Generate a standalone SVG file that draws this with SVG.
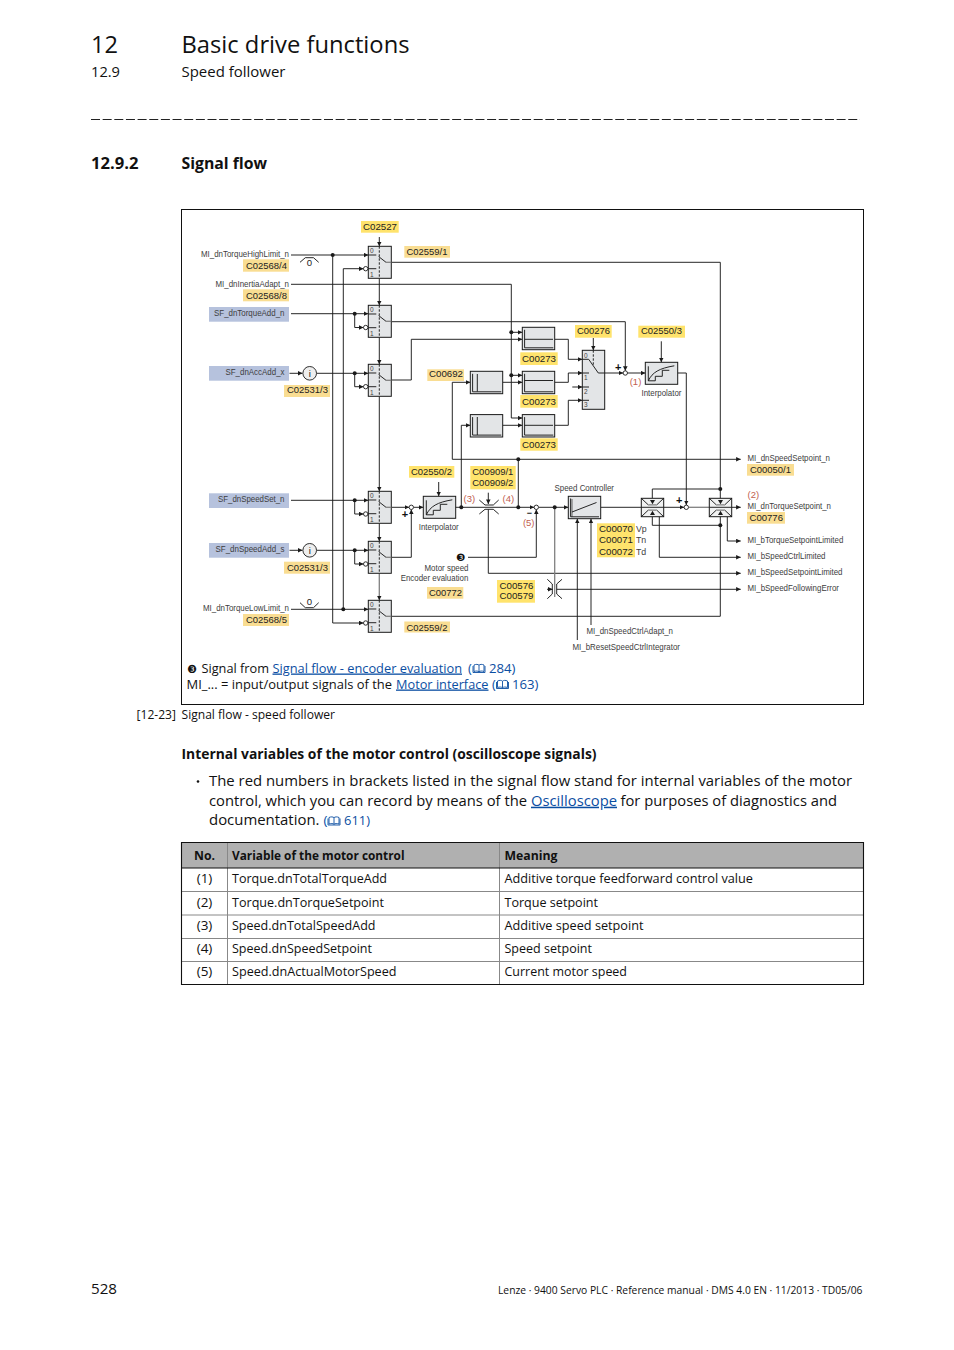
<svg xmlns="http://www.w3.org/2000/svg" width="954" height="1350" viewBox="0 0 954 1350">
<style>
.t{font-family:"Open Sans","Noto Sans",sans-serif;fill:#111}
.b{font-weight:700}
.l{fill:#0b4ea2}
.u{text-decoration:underline}
.d{font-family:"Liberation Sans",Arial,sans-serif;font-size:9.6px;fill:#222}
.s{font-family:"Liberation Sans",Arial,sans-serif;font-size:8.8px;fill:#3d3d3d}
.n{font-family:"Liberation Sans",Arial,sans-serif;font-size:6.5px;fill:#444}
.r{font-family:"Liberation Sans",Arial,sans-serif;font-size:9.5px;fill:#c2604f;text-anchor:middle}
.pm{font-family:"Liberation Sans",Arial,sans-serif;font-size:11px;fill:#111;text-anchor:middle;font-weight:700}
.w{fill:none;stroke:#1a1a1a;stroke-width:.95}
.a{marker-end:url(#ah)}
.g{fill:none;stroke:#808080;stroke-width:1.3}
.box{fill:#e3e5e7;stroke:#1a1a1a;stroke-width:1}
.y1{fill:#ffe36c}
.y2{fill:#f9dd92}
.bl{fill:#b6c2dd}
.j{fill:#1a1a1a}
.o{fill:#fff;stroke:#1a1a1a;stroke-width:.9}
.tl{fill:none;stroke:#888;stroke-width:1}
.tk{fill:none;stroke:#111;stroke-width:1.1}
</style>
<defs>
<marker id="ah" markerUnits="userSpaceOnUse" markerWidth="5" markerHeight="5" refX="4.6" refY="2.3" orient="auto"><path d="M0,0L4.6,2.3L0,4.6z" fill="#1a1a1a"/></marker>
<symbol id="sw" overflow="visible" width="23" height="32">
<rect class="box" width="23" height="32"/>
<path class="w" d="M0 8.7H8M0 22.4H8M10.4 10.3L17.7 16"/>
<path class="g" d="M17.7 16H23"/>
<path class="w" stroke-dasharray="2.4 1.6" d="M11 0V32"/>
</symbol>
<symbol id="flt" overflow="visible" width="32.4" height="22.4">
<rect class="box" width="32.4" height="22.4"/>
<path class="w" d="M2.3 2.5V20.5H31"/>
</symbol>
<symbol id="ipl" overflow="visible" width="32.4" height="22">
<rect class="box" width="32.4" height="22"/>
<path class="w" d="M3 4V18.5H10V14H17V8H24"/>
<path class="w" d="M3 18.5C7 10 14 6 29 3.5"/>
</symbol>
<symbol id="lim" overflow="visible" width="22.4" height="18.4">
<rect class="box" style="fill:#f1f2f2" width="22.4" height="18.4"/>
<path class="w" d="M0 0L7 6.6M22.4 0L15.4 6.6M0 18.4L7 11.8M22.4 18.4L15.4 11.8"/>
<path class="g" d="M7 6.6H15.4M7 11.8H15.4"/>
<path class="j" d="M8.7 1.8H13.7L11.2 6zM8.7 16.6H13.7L11.2 12.4z"/>
<path class="w" d="M0 9H22.4"/>
</symbol>
<symbol id="bk" overflow="visible" width="13" height="10">
<path fill="none" stroke="#0b4ea2" stroke-width=".9" d="M1.5 1.5C3.5.6 5.5.7 6.5 1.7C7.5.7 9.5.6 11.5 1.5V8C9.5 7.3 7.5 7.4 6.5 8.3C5.5 7.4 3.5 7.3 1.5 8ZM6.5 1.7V8.3M.5 2.5V9H12.5V2.5"/>
</symbol>
</defs>
<rect width="954" height="1350" fill="#fff"/>

<g id="page-header">
<text class="t" x="91" y="53" font-size="24" textLength="27" lengthAdjust="spacingAndGlyphs">12</text>
<text class="t" x="181.5" y="53" font-size="24" textLength="228" lengthAdjust="spacingAndGlyphs">Basic drive functions</text>
<text class="t" x="91" y="76.7" font-size="14" textLength="29" lengthAdjust="spacingAndGlyphs">12.9</text>
<text class="t" x="181.5" y="76.7" font-size="14" textLength="104" lengthAdjust="spacingAndGlyphs">Speed follower</text>
<path d="M91 119.5H860" stroke="#222" stroke-width="1" stroke-dasharray="9 2.65"/>
<text class="t b" x="91" y="169" font-size="16.5" textLength="47.5" lengthAdjust="spacingAndGlyphs">12.9.2</text>
<text class="t b" x="181.5" y="169" font-size="16.5" textLength="85.5" lengthAdjust="spacingAndGlyphs">Signal flow</text>
</g>

<rect id="frame" x="181.5" y="209.5" width="682" height="495" fill="none" stroke="#111" stroke-width="1"/>

<g id="connectors">
<path class="w a" d="M379.3 237V246.3"/>
<path class="w a" d="M379.3 278.3V305.3"/>
<path class="w a" d="M379.3 337.3V364.3"/>
<path class="w a" d="M379.3 396.3V491.3"/>
<path class="w a" d="M379.3 523.3V541.3"/>
<path class="g a" d="M379.3 573.3V600.3"/>
<path class="w a" d="M291 255H368.3"/>
<path class="w a" d="M332.7 255V623H363.5"/>
<path class="w a" d="M291 609.3H368.3"/>
<path class="w a" d="M343.3 609.3V268.7H363.5"/>
<path class="w a" d="M291 284.3H511.3V418H522.3"/>
<path class="w a" d="M511.3 332.3H522.3"/>
<path class="w a" d="M511.3 375.3H522.3"/>
<path class="w a" d="M291 313.7H368.3"/>
<path class="w a" d="M354.7 313.7V327.5H363.5"/>
<path class="w a" d="M289.5 373.3H302.5"/>
<path class="w a" d="M316.7 373.3H368.3"/>
<path class="w a" d="M354.7 373.3V386.7H363.5"/>
<path class="w a" d="M291 500.3H368.3"/>
<path class="w a" d="M354.7 500.3V514H363.5"/>
<path class="w a" d="M289.5 550.3H302.5"/>
<path class="w a" d="M316.7 550.3H368.3"/>
<path class="w a" d="M354.7 550.3V564H363.5"/>
<path class="w" d="M391.3 262.3H720.3V616.3H391.3"/>
<path class="w a" d="M391.3 321.7H625.3V370.8"/>
<path class="w a" d="M391.3 380H411.3V339.3H522.3"/>
<path class="w a" d="M391.3 507.3H409.1"/>
<path class="w a" d="M391.3 557.3H411.3V509.5"/>
<path class="w a" d="M413.5 507.3H423.3"/>
<path class="w a" d="M454.7 507.3H534.1"/>
<path class="w a" d="M538.5 507.3H568.3"/>
<path class="w" d="M600.7 507.3H641.3"/>
<path class="w a" d="M663.7 507.3H684.1"/>
<path class="g" d="M688.5 507.3H709.3"/>
<path class="w a" d="M731.7 507.3H740.7"/>
<path class="w a" d="M452.3 459.3V382.3H470.3"/>
<path class="w a" d="M452.3 459.3H740.7"/>
<path class="w" d="M518.3 459.3V507.3"/>
<path class="w a" d="M461.3 507.3V425.3H470.3"/>
<path class="w a" d="M502.7 382.3H522.3"/>
<path class="w a" d="M502.7 425.3H522.3"/>
<path class="w a" d="M554.7 339.3H568.3V359.3H582.3"/>
<path class="w a" d="M554.7 382.3H568.3V373H582.3"/>
<path class="w a" d="M572.3 387H582.3"/>
<path class="w a" d="M554.7 425.3H568.3V400.3H582.3"/>
<path class="w a" d="M604.7 373H623.1"/>
<path class="w a" d="M627.5 373H645.3"/>
<path class="w a" d="M677.7 373H686.3V505.1"/>
<path class="w a" d="M661.3 341.3V362.3"/>
<path class="w a" d="M593.3 338V350.3"/>
<path class="w a" d="M438.7 482V496.3"/>
<path class="w a" d="M488.3 492.7V504"/>
<path class="w a" d="M488.3 509.3V573.3H740.7"/>
<path class="w" d="M479.3 500L485 505H493.3L498.7 500M479.3 514L485 509.3H493.3L498.7 514"/>
<path class="g" stroke-width="1.5" d="M554.7 507.3V597"/>
<path class="w a" d="M547 589.3H552.6"/>
<path class="w a" d="M556.7 589.3H740.7"/>
<path class="w" d="M562 579.3L556.7 584V594L562 598.7M547.3 579.3L552.3 584V594L547.3 598.7"/>
<path class="w a" d="M577.3 640V518.7"/>
<path class="w a" d="M591 625V518.7"/>
<path class="w a" d="M468 557.3H536.3V509.5"/>
<path class="w" d="M652.3 498.3V489H720.3"/>
<path class="w" d="M652.3 516.7V525.3H720.3"/>
<path class="w a" d="M659.3 516.7V557.3H740.7"/>
<path class="w a" d="M727.3 516.7V541H740.7"/>
<circle class="j" cx="332.7" cy="255" r="2"/><circle class="j" cx="343.3" cy="609.3" r="2"/>
<circle class="j" cx="354.7" cy="313.7" r="2"/><circle class="j" cx="354.7" cy="373.3" r="2"/>
<circle class="j" cx="354.7" cy="500.3" r="2"/><circle class="j" cx="354.7" cy="550.3" r="2"/>
<circle class="j" cx="511.3" cy="332.3" r="2"/><circle class="j" cx="511.3" cy="375.3" r="2"/>
<circle class="j" cx="518.3" cy="459.3" r="2"/><circle class="j" cx="461.3" cy="507.3" r="2"/>
<circle class="j" cx="518.3" cy="507.3" r="2"/><circle class="j" cx="554.7" cy="507.3" r="2"/>
<circle class="j" cx="720.3" cy="489" r="2"/><circle class="j" cx="720.3" cy="525.3" r="2"/>
<path class="w" d="M300 262.3L305.3 257.7H313.5L318.7 262.3M300 602.7L305.3 607.7H313.5L318.7 602.7"/>
</g>

<g id="sw1"><use href="#sw" x="368.3" y="246.3"/><circle class="o" cx="365.7" cy="268.7" r="2.2"/><text class="n" x="370" y="252.5">0</text><text class="n" x="370" y="276.5">1</text></g>
<g id="sw2"><use href="#sw" x="368.3" y="305.3"/><circle class="o" cx="365.7" cy="327.5" r="2.2"/><text class="n" x="370" y="311.5">0</text><text class="n" x="370" y="335.5">1</text></g>
<g id="sw3"><use href="#sw" x="368.3" y="364.3"/><circle class="o" cx="365.7" cy="386.7" r="2.2"/><text class="n" x="370" y="370.5">0</text><text class="n" x="370" y="394.5">1</text></g>
<g id="sw4"><use href="#sw" x="368.3" y="491.3"/><circle class="o" cx="365.7" cy="514" r="2.2"/><text class="n" x="370" y="497.5">0</text><text class="n" x="370" y="521.5">1</text></g>
<g id="sw5"><use href="#sw" x="368.3" y="541.3"/><circle class="o" cx="365.7" cy="564" r="2.2"/><text class="n" x="370" y="547.5">0</text><text class="n" x="370" y="571.5">1</text></g>
<g id="sw6"><use href="#sw" x="368.3" y="600.3"/><circle class="o" cx="365.7" cy="623" r="2.2"/><text class="n" x="370" y="606.5">0</text><text class="n" x="370" y="630.5">1</text></g>

<g id="in-highlimit"><text class="s" x="201" y="257" textLength="88" lengthAdjust="spacingAndGlyphs">MI_dnTorqueHighLimit_n</text><rect class="y2" x="243" y="259.3" width="46" height="12.4"/><text class="d" x="246" y="268.5" textLength="41" lengthAdjust="spacingAndGlyphs">C02568/4</text><text class="d" x="309.5" y="266.3" text-anchor="middle">0</text></g>
<g id="in-inertia"><text class="s" x="215.5" y="287" textLength="73.5" lengthAdjust="spacingAndGlyphs">MI_dnInertiaAdapt_n</text><rect class="y2" x="243" y="289.3" width="46" height="12"/><text class="d" x="246" y="298.5" textLength="41" lengthAdjust="spacingAndGlyphs">C02568/8</text></g>
<g id="in-torqueadd"><rect class="bl" x="209" y="307" width="80" height="14.7"/><text class="s" x="214" y="316" textLength="70.5" lengthAdjust="spacingAndGlyphs">SF_dnTorqueAdd_n</text></g>
<g id="in-accadd"><rect class="bl" x="209" y="366" width="80" height="14.7"/><text class="s" x="225.5" y="375" textLength="59" lengthAdjust="spacingAndGlyphs">SF_dnAccAdd_x</text></g>
<g id="i1"><circle class="o" style="fill:#eee" cx="309.7" cy="373.3" r="6.8"/><text class="d" x="309.7" y="377" text-anchor="middle">i</text><rect class="y2" x="284" y="385" width="46" height="12"/><text class="d" x="287" y="393.4" textLength="41" lengthAdjust="spacingAndGlyphs">C02531/3</text></g>
<g id="in-speedset"><rect class="bl" x="209" y="493.3" width="80" height="14.7"/><text class="s" x="218" y="502" textLength="66.5" lengthAdjust="spacingAndGlyphs">SF_dnSpeedSet_n</text></g>
<g id="in-speedadd"><rect class="bl" x="209" y="543" width="80" height="14.7"/><text class="s" x="215.5" y="552" textLength="69" lengthAdjust="spacingAndGlyphs">SF_dnSpeedAdd_s</text></g>
<g id="i2"><circle class="o" style="fill:#eee" cx="309.7" cy="550.3" r="6.8"/><text class="d" x="309.7" y="554" text-anchor="middle">i</text><rect class="y2" x="284" y="561.7" width="46" height="12"/><text class="d" x="287" y="570.6" textLength="41" lengthAdjust="spacingAndGlyphs">C02531/3</text></g>
<g id="in-lowlimit"><text class="s" x="203" y="611" textLength="86" lengthAdjust="spacingAndGlyphs">MI_dnTorqueLowLimit_n</text><rect class="y2" x="243" y="614" width="46" height="12"/><text class="d" x="246" y="623.3" textLength="41" lengthAdjust="spacingAndGlyphs">C02568/5</text><text class="d" x="309.5" y="605.3" text-anchor="middle">0</text></g>

<g id="c02527"><rect class="y1" x="361" y="221" width="37.7" height="11.7"/><text class="d" x="363" y="229.8" textLength="34" lengthAdjust="spacingAndGlyphs">C02527</text></g>
<g id="c02559-1"><rect class="y2" x="404.3" y="246" width="45.7" height="11.7"/><text class="d" x="406.5" y="255" textLength="41" lengthAdjust="spacingAndGlyphs">C02559/1</text></g>
<g id="c02559-2"><rect class="y2" x="404.3" y="621.5" width="45.7" height="11"/><text class="d" x="406.5" y="630.5" textLength="41" lengthAdjust="spacingAndGlyphs">C02559/2</text></g>

<g id="f1"><use href="#flt" x="522.3" y="327.3"/><path class="w" d="M524.6 339.3H553"/><rect class="y1" x="520.3" y="352.3" width="37.4" height="12.7"/><text class="d" x="522" y="362" textLength="34" lengthAdjust="spacingAndGlyphs">C00273</text></g>
<g id="f2"><use href="#flt" x="522.3" y="371.3"/><path class="w" d="M524.6 380.5H553"/><rect class="y1" x="520.3" y="395" width="37.4" height="12.7"/><text class="d" x="522" y="404.8" textLength="34" lengthAdjust="spacingAndGlyphs">C00273</text></g>
<g id="f3"><use href="#flt" x="522.3" y="414.6"/><path class="w" d="M524.6 425.3H553"/><rect class="y1" x="520.3" y="438.3" width="37.4" height="12.4"/><text class="d" x="522" y="447.8" textLength="34" lengthAdjust="spacingAndGlyphs">C00273</text></g>
<g id="f4"><use href="#flt" x="470.3" y="371.3"/><path class="w" d="M477.3 374V391.5"/><rect class="y2" x="427.3" y="369.3" width="36.7" height="11.7"/><text class="d" x="429" y="377" textLength="34" lengthAdjust="spacingAndGlyphs">C00692</text></g>
<g id="f5"><use href="#flt" x="470.3" y="414.6"/><path class="w" d="M477.3 417V435"/></g>

<g id="mux"><rect class="box" x="582.3" y="350.3" width="22.4" height="59"/>
<path class="w" d="M582.3 359.3H588.7L598.3 373H604.7M582.3 373H589M582.3 387H589M582.3 400.3H589"/>
<path class="w" stroke-dasharray="2.4 1.6" d="M593.3 350.3V366"/>
<text class="n" x="584" y="357.5">0</text><text class="n" x="584" y="380">1</text><text class="n" x="584" y="393.5">2</text><text class="n" x="584" y="407">3</text>
<rect class="y1" x="575" y="325" width="36.7" height="12.7"/><text class="d" x="577" y="333.7" textLength="33" lengthAdjust="spacingAndGlyphs">C00276</text></g>
<g id="sum1"><circle class="o" cx="625.3" cy="373" r="2.2"/><text class="pm" x="618.3" y="370.5">+</text></g>
<g id="interp1"><use href="#ipl" x="645.3" y="362.3"/><rect class="y1" x="638.3" y="325.7" width="46.7" height="12"/><text class="d" x="641" y="334" textLength="41" lengthAdjust="spacingAndGlyphs">C02550/3</text><text class="s" x="641.5" y="396" textLength="40" lengthAdjust="spacingAndGlyphs">Interpolator</text></g>
<g id="sum2"><circle class="o" cx="411.3" cy="507.3" r="2.2"/><text class="pm" x="405" y="518">+</text></g>
<g id="interp2"><use href="#ipl" x="423.3" y="496.3"/><rect class="y1" x="409" y="466" width="45.3" height="11.7"/><text class="d" x="411" y="474.8" textLength="41" lengthAdjust="spacingAndGlyphs">C02550/2</text><text class="s" x="418.7" y="530" textLength="40" lengthAdjust="spacingAndGlyphs">Interpolator</text></g>
<g id="lim1"><rect class="y1" x="470.3" y="466" width="45.4" height="23.3"/><text class="d" x="472.3" y="474.8" textLength="41" lengthAdjust="spacingAndGlyphs">C00909/1</text><text class="d" x="472.3" y="485.8" textLength="41" lengthAdjust="spacingAndGlyphs">C00909/2</text></g>
<g id="sum3"><circle class="o" cx="536.3" cy="507.3" r="2.2"/><text class="pm" style="font-size:9px" x="529.3" y="515.5">−</text></g>
<g id="controller"><rect class="box" x="568.3" y="496.3" width="32.4" height="22.4"/><path class="g" stroke-width="1.8" d="M572 499V517"/><path class="w" d="M570.6 498.5V516.8H599M572 512L596.5 502.5"/>
<text class="s" x="554.5" y="491" textLength="59.5" lengthAdjust="spacingAndGlyphs">Speed Controller</text>
<rect class="y1" x="597" y="523.3" width="38" height="34"/>
<text class="d" x="599" y="532.3" textLength="34" lengthAdjust="spacingAndGlyphs">C00070</text><text class="d" x="599" y="543.3" textLength="34" lengthAdjust="spacingAndGlyphs">C00071</text><text class="d" x="599" y="555" textLength="34" lengthAdjust="spacingAndGlyphs">C00072</text>
<text class="s" x="636" y="532.3">Vp</text><text class="s" x="636" y="543.3">Tn</text><text class="s" x="636" y="555">Td</text></g>
<g id="encoder"><text x="460.7" y="560.5" text-anchor="middle" font-family="DejaVu Sans,sans-serif" font-size="10.5" fill="#111">❸</text>
<text class="s" x="424.5" y="571" textLength="44" lengthAdjust="spacingAndGlyphs">Motor speed</text><text class="s" x="400.7" y="581.3" textLength="67.7" lengthAdjust="spacingAndGlyphs">Encoder evaluation</text>
<rect class="y2" x="427" y="587" width="36.3" height="11.7"/><text class="d" x="429" y="595.8" textLength="33" lengthAdjust="spacingAndGlyphs">C00772</text></g>
<g id="lim2"><rect class="y1" x="497" y="580" width="38" height="22.7"/><text class="d" x="499.5" y="588.6" textLength="34" lengthAdjust="spacingAndGlyphs">C00576</text><text class="d" x="499.5" y="599.1" textLength="34" lengthAdjust="spacingAndGlyphs">C00579</text></g>
<g id="limit-speed"><use href="#lim" x="641.3" y="498.3"/></g>
<g id="sum4"><circle class="o" cx="686.3" cy="507.3" r="2.2"/><text class="pm" x="679.3" y="504">+</text></g>
<g id="limit-torque"><use href="#lim" x="709.3" y="498.3"/></g>
<g id="red-labels"><text class="r" x="635.5" y="385">(1)</text><text class="r" x="469.3" y="502">(3)</text><text class="r" x="508.3" y="502">(4)</text><text class="r" x="528.7" y="525.8">(5)</text><text class="r" x="753.3" y="498.3">(2)</text></g>

<g id="out-speedsetpoint"><text class="s" x="747.5" y="461" textLength="82.5" lengthAdjust="spacingAndGlyphs">MI_dnSpeedSetpoint_n</text><rect class="y2" x="747" y="464" width="47" height="11.7"/><text class="d" x="750" y="472.8" textLength="41" lengthAdjust="spacingAndGlyphs">C00050/1</text></g>
<g id="out-torquesetpoint"><text class="s" x="747.5" y="509" textLength="83.5" lengthAdjust="spacingAndGlyphs">MI_dnTorqueSetpoint_n</text><rect class="y2" x="747" y="512" width="38" height="11.7"/><text class="d" x="749.5" y="520.8" textLength="33.5" lengthAdjust="spacingAndGlyphs">C00776</text></g>
<g id="out-torquelimited"><text class="s" x="747.5" y="543" textLength="95.8" lengthAdjust="spacingAndGlyphs">MI_bTorqueSetpointLimited</text></g>
<g id="out-ctrllimited"><text class="s" x="747.5" y="559" textLength="78" lengthAdjust="spacingAndGlyphs">MI_bSpeedCtrlLimited</text></g>
<g id="out-speedlimited"><text class="s" x="747.5" y="575" textLength="95" lengthAdjust="spacingAndGlyphs">MI_bSpeedSetpointLimited</text></g>
<g id="out-followerror"><text class="s" x="747.5" y="591" textLength="91.5" lengthAdjust="spacingAndGlyphs">MI_bSpeedFollowingError</text></g>
<g id="in-adapt"><text class="s" x="586.5" y="634" textLength="86.5" lengthAdjust="spacingAndGlyphs">MI_dnSpeedCtrlAdapt_n</text></g>
<g id="in-reset"><text class="s" x="572.5" y="650" textLength="107.5" lengthAdjust="spacingAndGlyphs">MI_bResetSpeedCtrlIntegrator</text></g>

<g id="figure-notes">
<text x="187" y="672.5" font-family="DejaVu Sans,sans-serif" font-size="11" fill="#111">❸</text>
<text class="t" x="201.5" y="672.5" font-size="13" textLength="67.5" lengthAdjust="spacingAndGlyphs">Signal from</text>
<text class="t l u" x="272.5" y="672.5" font-size="13" textLength="189.5" lengthAdjust="spacingAndGlyphs">Signal flow - encoder evaluation</text>
<text class="t l" x="468" y="672.5" font-size="13">(</text><use href="#bk" x="472.5" y="663.5"/><text class="t l" x="489" y="672.5" font-size="13" textLength="26.5" lengthAdjust="spacingAndGlyphs">284)</text>
<text class="t" x="186.5" y="688.5" font-size="13" textLength="205.5" lengthAdjust="spacingAndGlyphs">MI_... = input/output signals of the</text>
<text class="t l u" x="396" y="688.5" font-size="13" textLength="92.5" lengthAdjust="spacingAndGlyphs">Motor interface</text>
<text class="t l" x="492" y="688.5" font-size="13">(</text><use href="#bk" x="496" y="679.5"/><text class="t l" x="512" y="688.5" font-size="13" textLength="26.5" lengthAdjust="spacingAndGlyphs">163)</text>
<text class="t" x="136.5" y="719" font-size="12" textLength="39.5" lengthAdjust="spacingAndGlyphs">[12-23]</text>
<text class="t" x="181.5" y="719" font-size="12" textLength="153.5" lengthAdjust="spacingAndGlyphs">Signal flow - speed follower</text>
</g>

<g id="section-text">
<text class="t b" x="181.5" y="759" font-size="14.5" textLength="415" lengthAdjust="spacingAndGlyphs">Internal variables of the motor control (oscilloscope signals)</text>
<circle cx="198" cy="781.5" r="1.3" fill="#111"/>
<text class="t" x="209" y="786" font-size="15.3" textLength="643" lengthAdjust="spacingAndGlyphs">The red numbers in brackets listed in the signal flow stand for internal variables of the motor</text>
<text class="t" x="209" y="805.7" font-size="15.3" textLength="318" lengthAdjust="spacingAndGlyphs">control, which you can record by means of the</text>
<text class="t l u" x="531" y="805.7" font-size="15.3" textLength="86" lengthAdjust="spacingAndGlyphs">Oscilloscope</text>
<text class="t" x="620.5" y="805.7" font-size="15.3" textLength="216.5" lengthAdjust="spacingAndGlyphs">for purposes of diagnostics and</text>
<text class="t" x="209" y="825" font-size="15.3" textLength="110.5" lengthAdjust="spacingAndGlyphs">documentation.</text>
<text class="t l" x="323.5" y="825" font-size="13.5">(</text><use href="#bk" x="327.5" y="816"/><text class="t l" x="344" y="825" font-size="13.5" textLength="26" lengthAdjust="spacingAndGlyphs">611)</text>
</g>

<g id="table">
<rect x="181.5" y="842.5" width="682" height="25.5" fill="#b0b0b0"/>
<path class="tl" d="M227.5 842.5V984.5M499.5 842.5V984.5M181.5 891.5H863.5M181.5 915H863.5M181.5 938.5H863.5M181.5 961.5H863.5"/>
<path class="tk" d="M181.5 842.5H863.5V984.5H181.5ZM181.5 868H863.5"/>
<text class="t b" x="194" y="860" font-size="13" textLength="21" lengthAdjust="spacingAndGlyphs">No.</text>
<text class="t b" x="232" y="860" font-size="13" textLength="172.5" lengthAdjust="spacingAndGlyphs">Variable of the motor control</text>
<text class="t b" x="504.5" y="860" font-size="13" textLength="53" lengthAdjust="spacingAndGlyphs">Meaning</text>
<text class="t" x="204.5" y="883.3" font-size="13.5" text-anchor="middle">(1)</text><text class="t" x="232" y="883.3" font-size="13.5" textLength="155" lengthAdjust="spacingAndGlyphs">Torque.dnTotalTorqueAdd</text><text class="t" x="504.5" y="883.3" font-size="13.5" textLength="248.5" lengthAdjust="spacingAndGlyphs">Additive torque feedforward control value</text>
<text class="t" x="204.5" y="906.7" font-size="13.5" text-anchor="middle">(2)</text><text class="t" x="232" y="906.7" font-size="13.5" textLength="152" lengthAdjust="spacingAndGlyphs">Torque.dnTorqueSetpoint</text><text class="t" x="504.5" y="906.7" font-size="13.5" textLength="93.5" lengthAdjust="spacingAndGlyphs">Torque setpoint</text>
<text class="t" x="204.5" y="930" font-size="13.5" text-anchor="middle">(3)</text><text class="t" x="232" y="930" font-size="13.5" textLength="143.5" lengthAdjust="spacingAndGlyphs">Speed.dnTotalSpeedAdd</text><text class="t" x="504.5" y="930" font-size="13.5" textLength="139" lengthAdjust="spacingAndGlyphs">Additive speed setpoint</text>
<text class="t" x="204.5" y="953" font-size="13.5" text-anchor="middle">(4)</text><text class="t" x="232" y="953" font-size="13.5" textLength="140" lengthAdjust="spacingAndGlyphs">Speed.dnSpeedSetpoint</text><text class="t" x="504.5" y="953" font-size="13.5" textLength="87.5" lengthAdjust="spacingAndGlyphs">Speed setpoint</text>
<text class="t" x="204.5" y="976" font-size="13.5" text-anchor="middle">(5)</text><text class="t" x="232" y="976" font-size="13.5" textLength="164.5" lengthAdjust="spacingAndGlyphs">Speed.dnActualMotorSpeed</text><text class="t" x="504.5" y="976" font-size="13.5" textLength="122.5" lengthAdjust="spacingAndGlyphs">Current motor speed</text>
</g>

<g id="page-footer">
<text class="t" x="91" y="1294" font-size="14.5" textLength="26" lengthAdjust="spacingAndGlyphs">528</text>
<text class="t" x="498" y="1294" font-size="10.5" textLength="364.5" lengthAdjust="spacingAndGlyphs">Lenze · 9400 Servo PLC · Reference manual · DMS 4.0 EN · 11/2013 · TD05/06</text>
</g>
</svg>
